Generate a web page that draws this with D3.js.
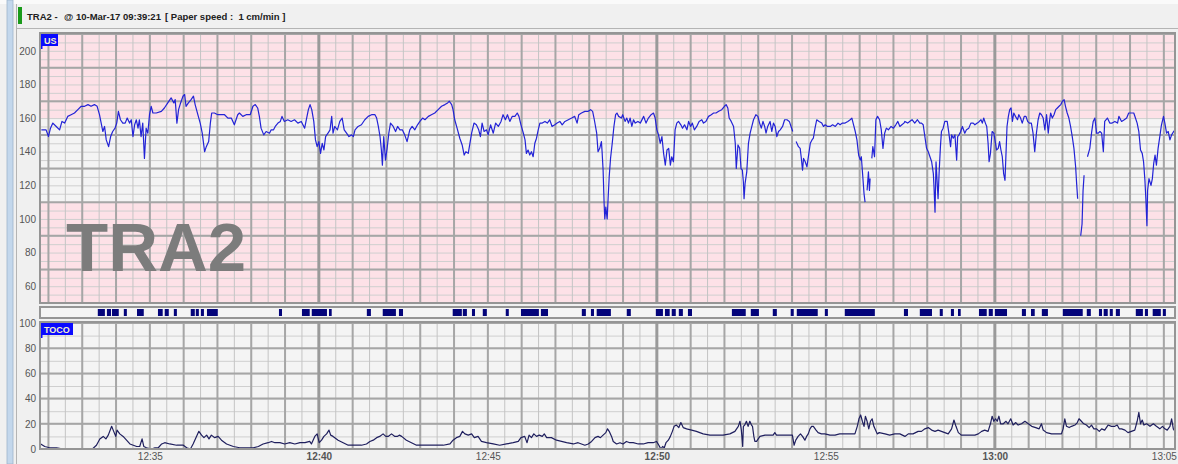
<!DOCTYPE html>
<html>
<head>
<meta charset="utf-8">
<script src="https://cdnjs.cloudflare.com/ajax/libs/d3/7.8.5/d3.min.js"></script>
<style>
body { margin: 0; background: #f0f0f0; overflow: hidden; }
svg { display: block; font-family: "Liberation Sans", Arial, sans-serif; }
</style>
</head>
<body>
<div id="ctg"></div>
<script>
// fetal heart rate, [minutes past 12:00, bpm]; null = signal lost
var fhr = [
  [31.79,153],[31.93,153],[32.00,149],[32.06,154],[32.13,157],[32.23,155],[32.33,153],[32.40,158],[32.48,157],[32.57,161],
  [32.67,162],[32.77,163],[32.87,165],[32.97,167],[33.07,167],[33.17,168],[33.26,167],[33.36,168],[33.44,167],[33.51,162],
  [33.56,157],[33.61,152],[33.66,155],[33.71,147],[33.78,143],[33.84,149],[33.90,152],[33.97,154],[34.02,157],[34.07,164],
  [34.13,159],[34.20,157],[34.27,157],[34.33,160],[34.40,157],[34.45,159],[34.50,149],[34.55,156],[34.60,159],[34.65,154],
  [34.69,159],[34.74,149],[34.79,157],[34.84,136],[34.89,154],[34.94,151],[34.99,162],[35.04,167],[35.09,163],[35.19,163],
  [35.34,164],[35.43,166],[35.53,169],[35.63,172],[35.71,169],[35.75,171],[35.80,157],[35.85,165],[35.91,169],[35.98,173],
  [36.03,174],[36.07,167],[36.14,169],[36.22,171],[36.29,173],[36.34,168],[36.42,162],[36.49,157],[36.55,151],[36.62,140],
  [36.67,143],[36.74,146],[36.79,157],[36.83,163],[36.91,163],[37.01,162],[37.11,162],[37.21,162],[37.31,160],[37.41,160],
  [37.50,156],[37.60,162],[37.65,163],[37.75,161],[37.85,162],[37.97,162],[38.05,167],[38.12,168],[38.19,166],[38.24,161],
  [38.29,154],[38.37,150],[38.44,152],[38.54,151],[38.59,153],[38.66,153],[38.71,155],[38.79,157],[38.86,158],[38.91,161],
  [38.98,158],[39.08,159],[39.18,158],[39.28,159],[39.38,157],[39.48,158],[39.58,154],[39.62,158],[39.69,165],[39.74,168],
  [39.79,165],[39.85,158],[39.90,147],[39.95,143],[40.00,146],[40.05,139],[40.10,145],[40.15,141],[40.20,149],[40.27,151],
  [40.33,153],[40.38,161],[40.42,151],[40.47,155],[40.55,153],[40.62,158],[40.69,160],[40.75,153],[40.82,151],[40.89,149],
  [40.97,150],[41.02,149],[41.07,153],[41.16,155],[41.26,156],[41.36,159],[41.46,161],[41.56,162],[41.66,162],[41.71,160],
  [41.76,155],[41.81,149],[41.85,141],[41.88,132],[41.92,149],[41.97,135],[42.02,142],[42.07,151],[42.12,157],[42.20,155],
  [42.27,152],[42.33,155],[42.40,153],[42.47,153],[42.54,150],[42.61,146],[42.69,153],[42.76,155],[42.84,153],[42.92,156],
  [42.99,158],[43.07,160],[43.14,159],[43.24,161],[43.33,162],[43.43,163],[43.53,165],[43.63,167],[43.73,168],[43.81,169],
  [43.86,170],[43.93,168],[43.97,165],[44.02,159],[44.09,154],[44.17,148],[44.24,144],[44.30,138],[44.35,140],[44.42,139],
  [44.47,145],[44.52,151],[44.59,157],[44.66,156],[44.73,153],[44.78,149],[44.83,157],[44.89,152],[44.96,153],[45.01,150],
  [45.08,156],[45.16,151],[45.23,157],[45.31,155],[45.39,158],[45.45,162],[45.52,159],[45.58,162],[45.65,158],[45.72,161],
  [45.80,161],[45.87,163],[45.92,161],[45.98,156],[46.05,151],[46.10,147],[46.14,139],[46.19,141],[46.24,138],[46.29,140],
  [46.34,137],[46.39,145],[46.44,148],[46.49,153],[46.54,157],[46.61,157],[46.69,158],[46.76,157],[46.83,159],[46.90,155],
  [46.98,156],[47.05,157],[47.13,158],[47.20,156],[47.28,158],[47.38,159],[47.48,160],[47.57,161],[47.64,157],[47.69,162],
  [47.77,163],[47.87,164],[47.97,164],[48.04,165],[48.10,164],[48.15,159],[48.22,151],[48.26,140],[48.31,142],[48.36,146],
  [48.38,140],[48.41,129],[48.44,109],[48.46,100],[48.49,107],[48.53,100],[48.56,113],[48.59,125],[48.63,136],[48.68,145],
  [48.73,155],[48.78,162],[48.82,163],[48.87,161],[48.95,160],[48.99,162],[49.06,158],[49.11,160],[49.16,157],[49.21,160],
  [49.26,155],[49.31,159],[49.36,157],[49.44,158],[49.51,157],[49.61,161],[49.68,157],[49.75,160],[49.83,162],[49.90,163],
  [49.95,160],[50.00,153],[50.05,150],[50.10,145],[50.15,149],[50.20,139],[50.25,132],[50.30,141],[50.35,142],[50.40,132],
  [50.44,137],[50.49,134],[50.54,153],[50.59,157],[50.64,158],[50.71,156],[50.76,154],[50.82,156],[50.89,153],[50.94,158],
  [51.00,155],[51.05,157],[51.11,153],[51.18,155],[51.25,158],[51.33,159],[51.38,157],[51.45,158],[51.53,161],[51.61,162],
  [51.68,163],[51.75,163],[51.83,164],[51.92,165],[52.00,167],[52.05,168],[52.10,166],[52.14,160],[52.20,158],[52.27,155],
  [52.32,145],[52.35,130],[52.40,144],[52.45,142],[52.49,130],[52.53,129],[52.56,122],[52.58,112],[52.61,121],[52.66,128],
  [52.71,145],[52.76,151],[52.81,155],[52.86,159],[52.93,162],[52.99,161],[53.04,157],[53.09,154],[53.14,158],[53.19,155],
  [53.23,151],[53.28,155],[53.35,158],[53.40,152],[53.45,157],[53.50,155],[53.55,149],[53.60,152],[53.65,153],[53.72,155],
  [53.78,159],[53.85,159],[53.92,158],[53.97,155],[54.02,152],[54.07,null],
  [54.12,146],[54.19,143],[54.24,142],[54.27,137],[54.31,129],[54.34,136],[54.39,134],[54.44,131],[54.49,138],[54.54,145],
  [54.59,147],[54.63,148],[54.68,154],[54.73,159],[54.80,158],[54.88,157],[54.93,155],[54.98,156],[55.05,155],[55.13,155],
  [55.20,156],[55.28,155],[55.36,157],[55.42,156],[55.49,157],[55.57,157],[55.65,158],[55.72,159],[55.77,160],[55.82,156],
  [55.87,152],[55.92,147],[55.97,138],[56.02,135],[56.05,137],[56.09,126],[56.13,115],[56.16,110],[56.19,null],
  [56.22,117],[56.26,128],[56.29,117],[56.31,124],[56.33,null],
  [56.36,136],[56.39,143],[56.44,137],[56.48,159],[56.53,161],[56.59,159],[56.64,153],[56.69,142],[56.74,151],[56.79,154],
  [56.85,153],[56.93,155],[57.00,154],[57.07,156],[57.13,158],[57.19,155],[57.25,156],[57.31,157],[57.34,158],[57.42,157],
  [57.48,158],[57.55,159],[57.63,157],[57.71,159],[57.78,157],[57.83,157],[57.88,156],[57.93,149],[57.98,142],[58.03,140],
  [58.08,137],[58.13,134],[58.18,127],[58.20,119],[58.23,104],[58.26,134],[58.29,123],[58.32,112],[58.35,127],[58.39,143],
  [58.42,152],[58.47,154],[58.52,158],[58.59,158],[58.64,151],[58.69,143],[58.72,150],[58.77,148],[58.82,150],[58.87,135],
  [58.90,149],[58.94,150],[58.99,152],[59.04,155],[59.11,151],[59.16,153],[59.23,154],[59.29,157],[59.36,157],[59.41,156],
  [59.48,157],[59.54,158],[59.59,159],[59.63,157],[59.67,160],[59.72,157],[59.76,155],[59.80,145],[59.83,134],[59.87,139],
  [59.92,152],[59.97,151],[60.02,145],[60.05,141],[60.10,142],[60.14,146],[60.18,141],[60.22,137],[60.26,127],[60.30,123],
  [60.33,139],[60.36,155],[60.40,161],[60.44,165],[60.48,166],[60.52,158],[60.56,163],[60.61,161],[60.67,159],[60.71,162],
  [60.76,160],[60.81,157],[60.87,161],[60.92,161],[60.97,158],[61.02,157],[61.08,157],[61.13,151],[61.18,140],[61.23,151],
  [61.28,159],[61.33,163],[61.38,162],[61.43,160],[61.48,153],[61.53,162],[61.58,151],[61.61,157],[61.65,163],[61.70,160],
  [61.75,162],[61.80,165],[61.85,166],[61.90,167],[61.95,168],[62.00,170],[62.05,171],[62.09,167],[62.14,163],[62.19,160],
  [62.24,155],[62.29,149],[62.34,142],[62.39,131],[62.42,121],[62.45,112],[62.50,null],
  [62.54,90],[62.58,97],[62.61,117],[62.64,126],[62.69,null],
  [62.74,137],[62.81,142],[62.86,151],[62.91,158],[62.96,160],[63.01,151],[63.06,151],[63.11,152],[63.16,151],[63.21,140],
  [63.25,158],[63.33,160],[63.40,157],[63.47,157],[63.55,158],[63.63,157],[63.67,161],[63.75,158],[63.83,159],[63.90,160],
  [63.96,163],[64.04,163],[64.11,163],[64.16,160],[64.21,157],[64.26,152],[64.31,141],[64.36,139],[64.40,134],[64.44,123],
  [64.47,111],[64.50,96],[64.52,117],[64.56,124],[64.62,120],[64.66,124],[64.70,133],[64.74,138],[64.78,132],[64.83,142],
  [64.88,149],[64.93,156],[64.99,161],[65.03,157],[65.08,151],[65.13,152],[65.18,147],[65.23,150],[65.29,152],[65.34,153],
  [65.40,153]
];

// uterine activity, [minutes past 12:00, value]
var toco = [
  [31.77,4],[31.89,2],[32.04,1],[32.24,1],[32.44,0],[32.73,0],[33.03,0],[33.30,0],[33.42,3],[33.52,8],
  [33.62,10],[33.70,8],[33.77,11],[33.87,18],[33.93,14],[33.99,10],[34.03,15],[34.11,12],[34.21,10],[34.31,7],
  [34.41,4],[34.51,3],[34.61,2],[34.70,2],[34.77,8],[34.82,2],[34.90,1],[35.05,0],[35.15,1],[35.25,1],
  [35.35,4],[35.44,5],[35.59,4],[35.79,3],[35.99,3],[36.09,1],[36.20,0],[36.28,4],[36.38,10],[36.45,14],
  [36.53,11],[36.60,9],[36.68,11],[36.75,8],[36.82,11],[36.92,9],[37.02,10],[37.12,7],[37.27,4],[37.47,2],
  [37.66,1],[37.86,1],[38.06,1],[38.21,2],[38.35,4],[38.50,5],[38.60,6],[38.70,5],[38.85,5],[38.99,4],
  [39.14,5],[39.29,4],[39.44,5],[39.59,5],[39.73,6],[39.78,4],[39.88,10],[39.95,12],[40.01,5],[40.08,7],
  [40.15,10],[40.23,12],[40.30,15],[40.35,11],[40.42,10],[40.57,7],[40.72,5],[40.87,3],[41.07,3],[41.26,3],
  [41.41,4],[41.51,6],[41.61,7],[41.71,9],[41.80,10],[41.90,12],[41.98,10],[42.05,10],[42.15,12],[42.25,10],
  [42.32,10],[42.38,11],[42.45,10],[42.59,7],[42.74,5],[42.89,3],[43.09,3],[43.38,3],[43.68,3],[43.88,4],
  [43.97,7],[44.07,9],[44.17,10],[44.25,14],[44.32,12],[44.42,11],[44.52,12],[44.60,9],[44.71,10],[44.81,6],
  [44.96,5],[45.16,4],[45.35,3],[45.55,4],[45.75,5],[45.90,6],[45.98,9],[46.09,10],[46.16,5],[46.22,11],
  [46.29,9],[46.36,12],[46.44,10],[46.52,11],[46.61,10],[46.67,12],[46.74,9],[46.88,9],[47.03,7],[47.18,6],
  [47.33,5],[47.53,4],[47.67,5],[47.87,3],[47.97,4],[48.07,6],[48.17,9],[48.26,10],[48.33,9],[48.41,11],
  [48.49,13],[48.54,16],[48.59,14],[48.66,10],[48.71,6],[48.81,4],[48.91,5],[49.00,4],[49.10,6],[49.20,5],
  [49.30,5],[49.45,4],[49.60,4],[49.74,5],[49.89,5],[49.99,6],[50.06,3],[50.12,0],[50.17,2],[50.22,1],
  [50.27,5],[50.34,7],[50.40,10],[50.46,14],[50.51,18],[50.58,19],[50.65,17],[50.71,21],[50.78,17],[50.88,16],
  [51.03,15],[51.17,14],[51.37,12],[51.57,11],[51.77,11],[51.96,11],[52.16,12],[52.31,14],[52.41,18],[52.46,22],
  [52.50,15],[52.54,2],[52.56,18],[52.60,19],[52.65,22],[52.70,18],[52.75,22],[52.80,19],[52.83,18],[52.87,10],
  [52.90,6],[52.95,6],[53.05,10],[53.20,11],[53.34,11],[53.44,11],[53.49,13],[53.54,11],[53.64,11],[53.79,11],
  [53.93,11],[54.01,11],[54.06,3],[54.11,7],[54.18,10],[54.25,12],[54.31,10],[54.38,7],[54.43,10],[54.48,12],
  [54.53,16],[54.58,18],[54.63,18],[54.71,15],[54.77,13],[54.87,12],[54.97,12],[55.12,11],[55.27,11],[55.41,12],
  [55.56,12],[55.71,12],[55.86,12],[55.93,18],[55.98,24],[56.03,27],[56.08,22],[56.13,18],[56.17,26],[56.22,22],
  [56.27,16],[56.32,22],[56.37,24],[56.42,18],[56.47,15],[56.52,12],[56.58,13],[56.75,12],[56.89,11],[57.04,12],
  [57.19,12],[57.34,10],[57.44,12],[57.58,12],[57.73,14],[57.83,14],[57.93,16],[58.03,17],[58.13,15],[58.23,14],
  [58.32,15],[58.42,14],[58.52,13],[58.62,12],[58.72,16],[58.79,23],[58.85,18],[58.92,13],[59.01,11],[59.16,11],
  [59.31,11],[59.41,11],[59.51,12],[59.61,14],[59.70,15],[59.80,14],[59.87,20],[59.92,26],[59.97,22],[60.02,24],
  [60.07,22],[60.12,26],[60.17,20],[60.25,20],[60.33,22],[60.39,20],[60.47,24],[60.54,19],[60.62,21],[60.69,19],
  [60.79,20],[60.89,22],[60.99,20],[61.09,18],[61.21,17],[61.31,16],[61.38,20],[61.43,15],[61.53,13],[61.68,12],
  [61.82,12],[61.97,12],[62.02,16],[62.07,24],[62.12,18],[62.20,17],[62.27,18],[62.37,19],[62.44,21],[62.49,24],
  [62.56,22],[62.63,20],[62.71,19],[62.79,17],[62.86,19],[62.93,16],[63.01,16],[63.09,14],[63.16,16],[63.25,15],
  [63.35,19],[63.45,18],[63.55,18],[63.62,19],[63.68,16],[63.75,16],[63.85,15],[63.94,13],[64.04,14],[64.14,15],
  [64.21,22],[64.26,29],[64.31,20],[64.36,23],[64.41,19],[64.49,20],[64.59,18],[64.69,20],[64.78,18],[64.88,16],
  [64.96,18],[65.03,16],[65.10,15],[65.18,18],[65.23,24],[65.28,16],[65.33,14],[65.41,13]
];

// fetal movement marks, [start, end] in minutes past 12:00
var movementMarks = [
  [33.46,33.67],[33.73,33.85],[33.88,34.08],[34.23,34.32],[34.62,34.82],[35.24,35.38],[35.44,35.56],[35.71,35.80],
  [36.21,36.33],[36.36,36.45],[36.51,36.60],[36.69,37.01],[38.82,38.91],[39.50,39.73],[39.79,40.24],[40.30,40.38],
  [41.42,41.54],[41.89,42.28],[42.37,42.49],[43.96,44.23],[44.26,44.38],[44.53,44.62],[44.85,44.97],[45.53,45.62],
  [45.98,46.51],[46.57,46.78],[47.78,47.90],[48.05,48.14],[48.22,48.64],[49.11,49.23],[49.97,50.18],[50.24,50.38],
  [50.44,50.56],[50.65,50.77],[50.92,51.04],[52.22,52.63],[52.78,53.02],[53.43,53.55],[53.96,54.05],[54.14,54.76],
  [54.97,55.06],[55.56,56.45],[57.31,57.43],[57.78,58.14],[58.37,58.46],[58.70,58.79],[58.91,58.99],[59.53,59.76],
  [59.82,59.94],[60.00,60.36],[60.80,60.92],[61.07,61.18],[61.39,61.57],[62.01,62.60],[62.72,62.84],[63.08,63.17],
  [63.22,63.34],[63.40,63.49],[63.58,63.70],[64.17,64.38],[64.44,64.53],[64.67,64.91],[64.97,65.06]
];

var timeTicks = [35, 40, 45, 50, 55, 60, 65];
var usTicks = [60, 80, 100, 120, 140, 160, 180, 200];
var tocoTicks = [0, 20, 40, 60, 80, 100];
var normalBand = [110, 160];

var W = 1178, H = 464;
var left = 40, right = 1175;
var usTop = 34, usBottom = 303;
var bandTop = 307, bandBottom = 318;
var tocoTop = 323, tocoBottom = 449;

var x = d3.scaleLinear().domain([31.75, 65.33]).range([left, right]);
var yUS = d3.scaleLinear().domain([50, 210]).range([usBottom, usTop]);
var yToco = d3.scaleLinear().domain([0, 100]).range([tocoBottom, tocoTop]);

function clock(m) {
  var h = 12 + Math.floor(m / 60), mm = m % 60;
  return h + ":" + (mm < 10 ? "0" : "") + mm;
}

var svg = d3.select("#ctg").append("svg")
    .attr("width", W)
    .attr("height", H);

// window chrome
svg.append("rect").attr("width", W).attr("height", H).attr("fill", "#f0f0f0");
svg.append("rect").attr("width", W).attr("height", 4).attr("fill", "#fafafa");
svg.append("rect").attr("x", 7).attr("y", 0).attr("width", 6).attr("height", H)
    .attr("fill", "#c3d7ec").attr("stroke", "#9fb4cc").attr("stroke-width", 0.8);
svg.append("line").attr("x1", 16.5).attr("x2", 16.5).attr("y1", 4).attr("y2", H)
    .attr("stroke", "#b4b4b4");
svg.append("line").attr("x1", 16).attr("x2", W).attr("y1", 28.5).attr("y2", 28.5)
    .attr("stroke", "#b4b4b4");
svg.append("rect").attr("x", 18).attr("y", 7).attr("width", 4).attr("height", 17)
    .attr("fill", "#1a9a1a");

var head = svg.append("g").attr("font-size", 9.5).attr("font-weight", "bold").attr("fill", "#202020");
head.append("text").attr("x", 27).attr("y", 20).text("TRA2 -");
head.append("text").attr("x", 64).attr("y", 20).text("@ 10-Mar-17 09:39:21");
head.append("text").attr("x", 165).attr("y", 20).style("white-space", "pre")
    .text("[ Paper speed :  1 cm/min ]");

// grid helper
function grid(g, yScale, y0, y1, hMinor, hMajor) {
  var d0 = yScale.domain()[0], d1 = yScale.domain()[1];
  g.selectAll(".hmin").data(d3.range(d0, d1 + 0.01, hMinor)).enter().append("line")
      .attr("x1", left).attr("x2", right)
      .attr("y1", function(d) { return yScale(d) + 0.5; })
      .attr("y2", function(d) { return yScale(d) + 0.5; })
      .attr("stroke", "#cfcfcf").attr("stroke-width", 1);
  g.selectAll(".vmin").data(d3.range(31.5, 65.5, 0.5)).enter().append("line")
      .attr("x1", function(d) { return x(d); }).attr("x2", function(d) { return x(d); })
      .attr("y1", y0).attr("y2", y1)
      .attr("stroke", "#c4c4c4").attr("stroke-width", 1);
  g.selectAll(".hmaj").data(d3.range(d0, d1 + 0.01, hMajor)).enter().append("line")
      .attr("x1", left).attr("x2", right)
      .attr("y1", function(d) { return yScale(d); })
      .attr("y2", function(d) { return yScale(d); })
      .attr("stroke", "#a6a6a6").attr("stroke-width", 2);
  g.selectAll(".vmaj").data(d3.range(32, 66, 1)).enter().append("line")
      .attr("x1", function(d) { return x(d); }).attr("x2", function(d) { return x(d); })
      .attr("y1", y0).attr("y2", y1)
      .attr("stroke", function(d) { return d % 10 === 0 ? "#9a9a9a" : "#a6a6a6"; })
      .attr("stroke-width", function(d) { return d % 10 === 0 ? 3 : 2; });
}

svg.append("clipPath").attr("id", "clipUS").append("rect")
    .attr("x", left).attr("y", usTop).attr("width", right - left).attr("height", usBottom - usTop);
svg.append("clipPath").attr("id", "clipToco").append("rect")
    .attr("x", left).attr("y", tocoTop).attr("width", right - left).attr("height", tocoBottom - tocoTop);

// US panel
var us = svg.append("g").attr("clip-path", "url(#clipUS)");
us.append("rect").attr("x", left).attr("y", usTop).attr("width", right - left)
    .attr("height", usBottom - usTop).attr("fill", "#f4f4f4");
us.append("rect").attr("x", left).attr("y", usTop).attr("width", right - left)
    .attr("height", yUS(normalBand[1]) - usTop).attr("fill", "#fde1e7");
us.append("rect").attr("x", left).attr("y", yUS(normalBand[0])).attr("width", right - left)
    .attr("height", usBottom - yUS(normalBand[0])).attr("fill", "#fde1e7");
grid(us, yUS, usTop, usBottom, 5, 20);

us.append("text").attr("x", 66).attr("y", 271)
    .attr("font-size", 69).attr("font-weight", "bold").attr("fill", "#7c7c7c")
    .text("TRA2");

var fhrLine = d3.line()
    .defined(function(d) { return d[1] != null; })
    .x(function(d) { return x(d[0]); })
    .y(function(d) { return yUS(d[1]); });
us.append("path").datum(fhr)
    .attr("d", fhrLine)
    .attr("fill", "none").attr("stroke", "#2323d6").attr("stroke-width", 1.2)
    .attr("stroke-linejoin", "round");

svg.append("rect").attr("x", left).attr("y", usTop - 1).attr("width", right - left)
    .attr("height", usBottom - usTop + 1).attr("fill", "none").attr("stroke", "#959595").attr("stroke-width", 2);

// movement band
svg.append("rect").attr("x", left).attr("y", bandTop).attr("width", right - left)
    .attr("height", bandBottom - bandTop).attr("fill", "#f4f4f4")
    .attr("stroke", "#959595").attr("stroke-width", 2);
svg.append("g").selectAll("rect").data(movementMarks).enter().append("rect")
    .attr("x", function(d) { return x(d[0]); })
    .attr("width", function(d) { return x(d[1]) - x(d[0]); })
    .attr("y", bandTop + 2).attr("height", bandBottom - bandTop - 4)
    .attr("fill", "#04047a");

// TOCO panel
var tc = svg.append("g").attr("clip-path", "url(#clipToco)");
tc.append("rect").attr("x", left).attr("y", tocoTop).attr("width", right - left)
    .attr("height", tocoBottom - tocoTop).attr("fill", "#f4f4f4");
grid(tc, yToco, tocoTop, tocoBottom, 10, 20);

var tocoLine = d3.line()
    .x(function(d) { return x(d[0]); })
    .y(function(d) { return yToco(d[1]); });
tc.append("path").datum(toco)
    .attr("d", tocoLine)
    .attr("fill", "none").attr("stroke", "#1f1f5e").attr("stroke-width", 1.2)
    .attr("stroke-linejoin", "round");

svg.append("rect").attr("x", left).attr("y", tocoTop - 1).attr("width", right - left)
    .attr("height", tocoBottom - tocoTop + 1).attr("fill", "none").attr("stroke", "#959595").attr("stroke-width", 2);

// channel tags
function tag(tx, ty, w, label) {
  svg.append("rect").attr("x", tx).attr("y", ty).attr("width", w).attr("height", 12).attr("fill", "#0a0aff");
  svg.append("rect").attr("x", tx).attr("y", ty + 12).attr("width", 1.5).attr("height", 3).attr("fill", "#0a0aff");
  svg.append("text").attr("x", tx + 3).attr("y", ty + 10).attr("font-size", 9).attr("font-weight", "bold")
      .attr("fill", "#f4f0c8").text(label);
}
tag(41, usTop, 17, "US");
tag(41, tocoTop, 32, "TOCO");

// axes
var axUS = svg.append("g").attr("transform", "translate(" + (left - 4) + ",0)")
    .call(d3.axisLeft(yUS).tickValues(usTicks).tickSize(0).tickPadding(0));
var axToco = svg.append("g").attr("transform", "translate(" + (left - 4) + ",0)")
    .call(d3.axisLeft(yToco).tickValues(tocoTicks).tickSize(0).tickPadding(0));
var axTime = svg.append("g").attr("transform", "translate(0," + (tocoBottom + 2) + ")")
    .call(d3.axisBottom(x).tickValues(timeTicks).tickFormat(clock).tickSize(0).tickPadding(2));

[axUS, axToco, axTime].forEach(function(a) {
  a.select(".domain").remove();
  a.selectAll("text").attr("fill", "#555").attr("font-size", 10)
      .attr("font-family", "'Liberation Sans', Arial, sans-serif");
});
axTime.selectAll("text").attr("font-weight", function(d) { return d % 10 === 0 ? "bold" : "normal"; });
</script>
</body>
</html>
